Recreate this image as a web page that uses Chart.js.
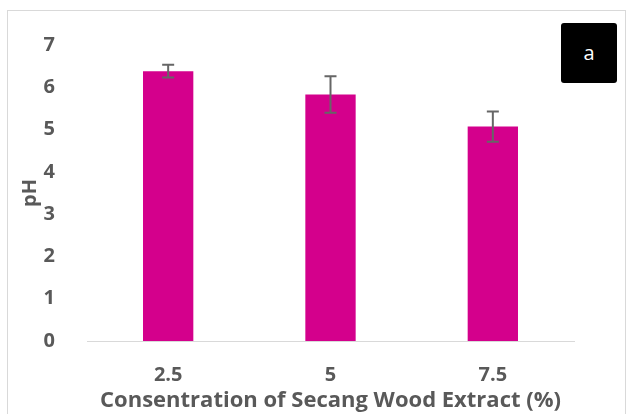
<!DOCTYPE html>
<html>
<head>
  <meta charset="utf-8">
  <script src="https://cdn.jsdelivr.net/npm/chart.js@4"></script>
  <style>
    body { margin: 0; background: #fff; }
    #wrap { position: relative; width: 629px; height: 414px; overflow: hidden; }
    #frame { position: absolute; left: 7px; top: 10px; width: 619px; height: 420px; border: 1px solid #d9d9d9; box-sizing: border-box; }
    #tag { position: absolute; left: 561px; top: 23px; width: 56px; height: 60px; background: #000; border-radius: 3px;
           color: #fff; font-family: "Open Sans", sans-serif; font-size: 20px; line-height: 60px; text-align: center; }
    canvas { position: absolute; left: 0; top: 0; }
  </style>
</head>
<body>
<div id="wrap">
  <div id="frame"></div>
  <canvas id="chart" width="629" height="414"></canvas>
  <div id="tag">a</div>
</div>
<script>
// data
var categories = ['2.5', '5', '7.5'];
var phValues = [6.38, 5.83, 5.07];
var phErrors = [0.15, 0.43, 0.36];
var yTicks = [0, 1, 2, 3, 4, 5, 6, 7];

var textGrey = '#595959';
var fontFam = '"Open Sans", sans-serif';

// whiskers for the standard deviation
var errorBars = {
  id: 'errorBars',
  afterDatasetsDraw: function(chart) {
    var ctx = chart.ctx;
    var y = chart.scales.y;
    var meta = chart.getDatasetMeta(0);
    ctx.save();
    ctx.strokeStyle = '#666666';
    ctx.lineWidth = 2;
    meta.data.forEach(function(bar, i) {
      var top = y.getPixelForValue(phValues[i] + phErrors[i]);
      var bot = y.getPixelForValue(phValues[i] - phErrors[i]);
      ctx.beginPath();
      ctx.moveTo(bar.x, top); ctx.lineTo(bar.x, bot);
      ctx.moveTo(bar.x - 6, top); ctx.lineTo(bar.x + 6, top);
      ctx.moveTo(bar.x - 6, bot); ctx.lineTo(bar.x + 6, bot);
      ctx.stroke();
    });
    ctx.restore();
  }
};

new Chart(document.getElementById('chart'), {
  type: 'bar',
  data: {
    labels: categories,
    datasets: [{
      label: 'pH',
      data: phValues,
      backgroundColor: '#d4008c',
      categoryPercentage: 1,
      barPercentage: 0.31
    }]
  },
  options: {
    responsive: false,
    animation: false,
    layout: { padding: { left: 0, right: 55, top: 45, bottom: 0 } },
    plugins: { legend: { display: false }, tooltip: { enabled: false } },
    scales: {
      x: {
        grid: { display: false, drawTicks: false },
        border: { display: true, color: '#d9d9d9', width: 1 },
        ticks: { color: textGrey, font: { family: fontFam, size: 20, weight: 'bold' }, padding: 22 },
        title: { display: true, text: 'Consentration of Secang Wood Extract (%)', color: textGrey,
                 font: { family: fontFam, size: 22, weight: 'bold' }, padding: { top: -10, bottom: 0 } },
        afterFit: function(s) { s.height = 73; }
      },
      y: {
        min: 0, max: 7,
        afterBuildTicks: function(s) { s.ticks = yTicks.map(function(v) { return { value: v }; }); },
        grid: { display: false, drawTicks: false },
        border: { display: false },
        ticks: { color: textGrey, font: { family: fontFam, size: 20, weight: 'bold' }, padding: 32 },
        title: { display: true, text: 'pH', color: textGrey, font: { family: fontFam, size: 20, weight: 'bold' }, padding: { top: 18, bottom: 0 } },
        afterFit: function(s) { s.width = 87; }
      }
    }
  },
  plugins: [errorBars]
});
</script>
</body>
</html>
